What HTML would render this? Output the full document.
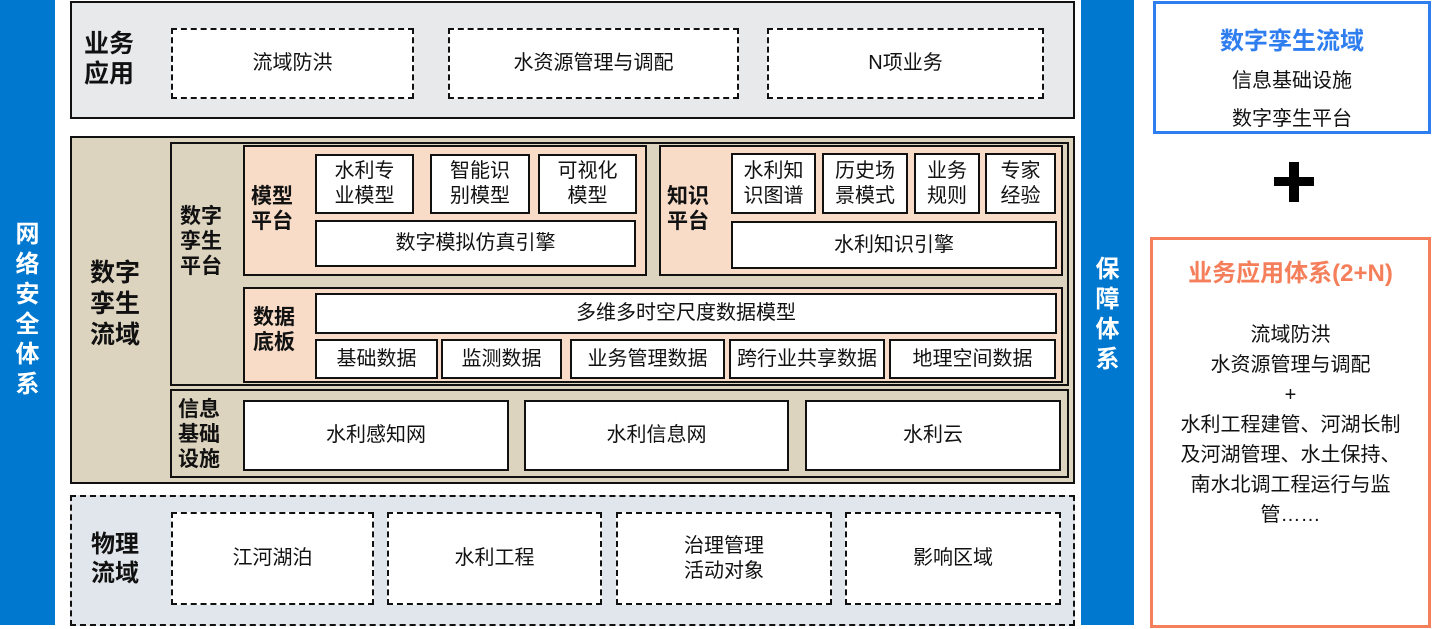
<!DOCTYPE html>
<html><head><meta charset="utf-8"><style>
body{margin:0;width:1432px;height:629px;background:#fff;position:relative;overflow:hidden;font-family:"Liberation Sans","Noto Sans CJK SC",sans-serif;}
div{position:absolute;box-sizing:border-box;}
.b{border:2px solid #111;}
.w{background:#fff;border:2px solid #111;display:flex;align-items:center;justify-content:center;text-align:center;font-size:20px;line-height:25px;color:#111;}
.d{background:#fff;border:2px dashed #111;display:flex;align-items:center;justify-content:center;text-align:center;font-size:20px;line-height:25px;color:#111;}
.l{font-weight:bold;font-size:21px;line-height:25px;color:#111;}
.v{color:#fff;font-weight:bold;font-size:24px;line-height:30px;text-align:center;}
</style></head><body>
<div style="left:0;top:0;width:55px;height:625px;background:#0078d0"></div>
<div class="v" style="left:0;top:220px;width:55px">网<br>络<br>安<br>全<br>体<br>系</div>
<div style="left:1081px;top:0;width:53px;height:625px;background:#0078d0"></div>
<div class="v" style="left:1081px;top:255px;width:53px">保<br>障<br>体<br>系</div>

<div class="b" style="left:70px;top:1px;width:1005px;height:118px;background:#e8e9eb"></div>
<div class="l" style="left:84px;top:29px;font-size:25px;line-height:30px">业务<br>应用</div>
<div class="d" style="left:171px;top:28px;width:243px;height:71px">流域防洪</div>
<div class="d" style="left:448px;top:28px;width:291px;height:71px">水资源管理与调配</div>
<div class="d" style="left:767px;top:28px;width:277px;height:71px">N项业务</div>

<div class="b" style="left:70px;top:136px;width:1005px;height:348px;background:#ddd4c0"></div>
<div class="l" style="left:90px;top:258px;font-size:25px;line-height:31px">数字<br>孪生<br>流域</div>
<div class="b" style="left:170px;top:142px;width:899px;height:244px;background:#ddd4c0"></div>
<div class="l" style="left:180px;top:204px">数字<br>孪生<br>平台</div>
<div class="b" style="left:243px;top:145px;width:404px;height:131px;background:#f8dcc8"></div>
<div class="l" style="left:251px;top:184px">模型<br>平台</div>
<div class="w" style="left:315px;top:154px;width:99px;height:60px">水利专<br>业模型</div>
<div class="w" style="left:430px;top:154px;width:100px;height:60px">智能识<br>别模型</div>
<div class="w" style="left:538px;top:154px;width:99px;height:60px">可视化<br>模型</div>
<div class="w" style="left:315px;top:220px;width:321px;height:47px">数字模拟仿真引擎</div>
<div class="b" style="left:659px;top:145px;width:404px;height:131px;background:#f8dcc8"></div>
<div class="l" style="left:667px;top:184px">知识<br>平台</div>
<div class="w" style="left:731px;top:153px;width:85px;height:61px">水利知<br>识图谱</div>
<div class="w" style="left:822px;top:153px;width:86px;height:61px">历史场<br>景模式</div>
<div class="w" style="left:914px;top:153px;width:66px;height:61px">业务<br>规则</div>
<div class="w" style="left:985px;top:153px;width:71px;height:61px">专家<br>经验</div>
<div class="w" style="left:731px;top:221px;width:326px;height:48px">水利知识引擎</div>
<div class="b" style="left:243px;top:287px;width:820px;height:96px;background:#f8dcc8"></div>
<div class="l" style="left:253px;top:305px">数据<br>底板</div>
<div class="w" style="left:315px;top:293px;width:742px;height:41px">多维多时空尺度数据模型</div>
<div class="w" style="left:315px;top:339px;width:123px;height:40px">基础数据</div>
<div class="w" style="left:441px;top:339px;width:121px;height:40px">监测数据</div>
<div class="w" style="left:570px;top:339px;width:155px;height:40px">业务管理数据</div>
<div class="w" style="left:729px;top:339px;width:156px;height:40px">跨行业共享数据</div>
<div class="w" style="left:889px;top:339px;width:167px;height:40px">地理空间数据</div>
<div class="b" style="left:170px;top:389px;width:899px;height:89px;background:#ddd4c0"></div>
<div class="l" style="left:178px;top:397px">信息<br>基础<br>设施</div>
<div class="w" style="left:243px;top:400px;width:266px;height:71px">水利感知网</div>
<div class="w" style="left:524px;top:400px;width:265px;height:71px">水利信息网</div>
<div class="w" style="left:805px;top:400px;width:256px;height:71px">水利云</div>

<div style="left:70px;top:495px;width:1005px;height:131px;background:#e0e6ec;border:2px dashed #111"></div>
<div class="l" style="left:91px;top:530px;font-size:24px;line-height:29px">物理<br>流域</div>
<div class="d" style="left:171px;top:512px;width:203px;height:93px">江河湖泊</div>
<div class="d" style="left:387px;top:512px;width:215px;height:93px">水利工程</div>
<div class="d" style="left:616px;top:512px;width:216px;height:93px">治理管理<br>活动对象</div>
<div class="d" style="left:845px;top:512px;width:216px;height:93px">影响区域</div>

<div style="left:1153px;top:1px;width:278px;height:133px;border:3px solid #2f7ef0;text-align:center">
<div style="left:0;right:0;top:17px;color:#2f7ef0;font-weight:bold;font-size:24px">数字孪生流域</div>
<div style="left:0;right:0;top:60px;font-size:20px;color:#111">信息基础设施</div>
<div style="left:0;right:0;top:98px;font-size:20px;color:#111">数字孪生平台</div>
</div>
<div style="left:1274px;top:177px;width:40px;height:9px;background:#000"></div>
<div style="left:1289px;top:162px;width:10px;height:40px;background:#000"></div>
<div style="left:1150px;top:237px;width:281px;height:391px;border:3px solid #f57f5b;text-align:center">
<div style="left:0;right:0;top:13px;color:#f57f5b;font-weight:bold;font-size:24px">业务应用体系(2+N)</div>
<div style="left:0;right:0;top:80px;font-size:20px;line-height:30px;color:#111">流域防洪<br>水资源管理与调配<br>+<br>水利工程建管、河湖长制<br>及河湖管理、水土保持、<br>南水北调工程运行与监<br>管……</div>
</div>
</body></html>
